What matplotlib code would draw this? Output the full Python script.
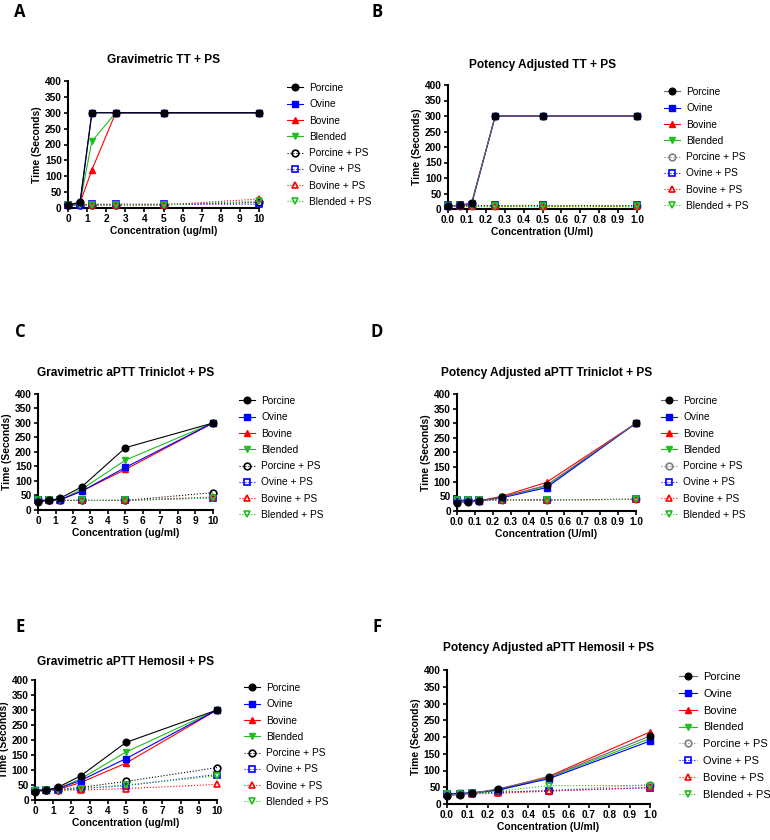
import matplotlib
matplotlib.use('Agg')
import matplotlib.pyplot as plt

plt.rcParams['font.family'] = ['Liberation Sans', 'DejaVu Sans']

# concentrations
grav_conc = [0, 0.625, 1.25, 2.5, 5, 10]
pot_conc = [0, 0.0625, 0.125, 0.25, 0.5, 1.0]

series_names = ['Porcine', 'Ovine', 'Bovine', 'Blended',
                'Porcine + PS', 'Ovine + PS', 'Bovine + PS', 'Blended + PS']

# A - Gravimetric TT + PS
grav_tt = [
    [10, 18, 300, 300, 300, 300],
    [10, 10, 300, 300, 300, 300],
    [10, 15, 120, 300, 300, 300],
    [10, 15, 210, 300, 300, 300],
    [10, 10, 10, 10, 10, 18],
    [10, 10, 12, 12, 12, 12],
    [10, 10, 10, 10, 10, 28],
    [10, 10, 10, 10, 10, 22],
]
# B - Potency Adjusted TT + PS
pot_tt = [
    [10, 12, 18, 300, 300, 300],
    [10, 12, 15, 300, 300, 300],
    [10, 12, 20, 300, 300, 300],
    [10, 12, 18, 300, 300, 300],
    [10, 10, 10, 10, 10, 10],
    [12, 12, 12, 12, 12, 12],
    [10, 10, 10, 10, 10, 10],
    [10, 10, 10, 10, 10, 10],
]
# C - Gravimetric aPTT Triniclot + PS
grav_trin = [
    [28, 33, 40, 80, 215, 300],
    [33, 33, 35, 65, 147, 300],
    [33, 33, 35, 65, 140, 300],
    [33, 33, 33, 72, 172, 300],
    [33, 33, 33, 33, 33, 60],
    [33, 33, 33, 33, 33, 42],
    [33, 33, 33, 33, 33, 45],
    [33, 33, 33, 33, 33, 42],
]
# D - Potency Adjusted aPTT Triniclot + PS
pot_trin = [
    [28, 30, 33, 47, 88, 300],
    [35, 35, 35, 45, 80, 300],
    [35, 35, 35, 50, 98, 300],
    [35, 33, 35, 48, 85, 300],
    [38, 38, 38, 38, 38, 40],
    [38, 38, 38, 38, 38, 40],
    [38, 38, 38, 38, 38, 40],
    [38, 38, 38, 38, 38, 40],
]
# E - Gravimetric aPTT Hemosil + PS
grav_hemo = [
    [28, 33, 42, 80, 192, 300],
    [33, 33, 38, 65, 138, 300],
    [33, 33, 35, 58, 123, 300],
    [33, 33, 38, 70, 160, 300],
    [30, 33, 35, 42, 62, 108],
    [30, 33, 33, 38, 48, 85],
    [30, 33, 33, 33, 38, 52],
    [30, 33, 33, 38, 50, 80],
]
# F - Potency Adjusted aPTT Hemosil + PS
pot_hemo = [
    [25, 28, 32, 45, 80, 203],
    [30, 32, 33, 42, 75, 188],
    [30, 30, 33, 42, 82, 215],
    [30, 32, 33, 40, 78, 195],
    [30, 30, 32, 35, 40, 58],
    [30, 30, 32, 35, 40, 48],
    [30, 30, 30, 32, 38, 50],
    [30, 30, 32, 38, 55, 55],
]

W, H = 770, 840
fig = plt.figure(figsize=(W / 100, H / 100), dpi=100)

def px_axes(left, right, top, bottom):
    return fig.add_axes([left / W, 1 - bottom / H, (right - left) / W, (bottom - top) / H])

colors = ['black', '#0000ff', '#ff0000', '#1fbf1f']
markers = ['o', 's', '^', 'v']

def draw_panel(ax, x, data, title, xticks, xfmt, potency, leg_x, leg_y, leg_fs, title_y):
    handles = [None] * 8
    for i, vals in enumerate(data):
        c = colors[i % 4]
        m = markers[i % 4]
        if i < 4:
            lc = 'dimgray' if (potency and i == 0) else c
            h, = ax.plot(x, vals, color=lc, lw=0.8, marker=m, ms=4.8,
                         mfc=c, mec=c, label=series_names[i], clip_on=False, zorder=10 - i)
        else:
            if potency and i == 4:
                c = 'gray'
            h, = ax.plot(x, vals, color=c, lw=0.8, ls=':', marker=m, ms=4.8,
                         mfc='none', mec=c, mew=1.2, label=series_names[i], clip_on=False, zorder=2 + i)
        handles[i] = h
    ax.set_xlim(xticks[0], xticks[-1])
    ax.set_ylim(0, 400)
    ax.set_yticks(range(0, 401, 50))
    ax.set_xticks(xticks)
    ax.set_xticklabels([xfmt.format(t) for t in xticks])
    for s in ['top', 'right']:
        ax.spines[s].set_visible(False)
    for s in ['left', 'bottom']:
        ax.spines[s].set_linewidth(1.5)
    ax.tick_params(direction='out', width=1.2, length=3, labelsize=7.3, pad=1.5)
    for lab in ax.get_xticklabels() + ax.get_yticklabels():
        lab.set_fontweight('bold')
    ax.set_ylabel('Time (Seconds)', fontsize=7.4, fontweight='bold', labelpad=2)
    ax.set_xlabel('Concentration (ug/ml)' if not potency else 'Concentration (U/ml)',
                  fontsize=7.4, fontweight='bold', labelpad=1.5)
    pos = ax.get_position()
    fig.text((pos.x0 + pos.x1) / 2, 1 - title_y / H, title, ha='center', va='center',
             fontsize=8.6, fontweight='bold')
    ax.legend(handles, series_names, loc='upper left', bbox_to_anchor=(leg_x / W, 1 - leg_y / H),
              bbox_transform=fig.transFigure, frameon=False, fontsize=leg_fs,
              handlelength=1.6, handletextpad=0.6, labelspacing=0.62, borderpad=0,
              borderaxespad=0)

grav_ticks = list(range(0, 11))
pot_ticks = [round(0.1 * k, 1) for k in range(0, 11)]

axA = px_axes(68, 259, 81, 208)
draw_panel(axA, grav_conc, grav_tt, 'Gravimetric TT + PS', grav_ticks, '{:d}', False, 287, 83, 7.3, 60)
axB = px_axes(448, 637, 85, 209)
draw_panel(axB, pot_conc, pot_tt, 'Potency Adjusted TT + PS', pot_ticks, '{:.1f}', True, 664, 87, 7.3, 65)
axC = px_axes(38, 213, 394, 510)
draw_panel(axC, grav_conc, grav_trin, 'Gravimetric aPTT Triniclot + PS', grav_ticks, '{:d}', False, 239, 396, 7.3, 373)
axD = px_axes(457, 636, 394, 511)
draw_panel(axD, pot_conc, pot_trin, 'Potency Adjusted aPTT Triniclot + PS', pot_ticks, '{:.1f}', True, 661, 396, 7.3, 373)
axE = px_axes(35, 217, 680, 800)
draw_panel(axE, grav_conc, grav_hemo, 'Gravimetric aPTT Hemosil + PS', grav_ticks, '{:d}', False, 244, 683, 7.3, 662)
axF = px_axes(447, 650, 670, 804)
draw_panel(axF, pot_conc, pot_hemo, 'Potency Adjusted aPTT Hemosil + PS', pot_ticks, '{:.1f}', True, 679, 672, 7.9, 648)

for letter, x, y in [('A', 20, 12), ('B', 377, 12), ('C', 20, 332), ('D', 377, 332),
                     ('E', 20, 627), ('F', 377, 627)]:
    fig.text(x / W, 1 - y / H, letter, ha='center', va='center', fontsize=12,
             fontweight='bold', family=['Open Sans', 'DejaVu Sans'])

fig.savefig('out.png', dpi=100)
